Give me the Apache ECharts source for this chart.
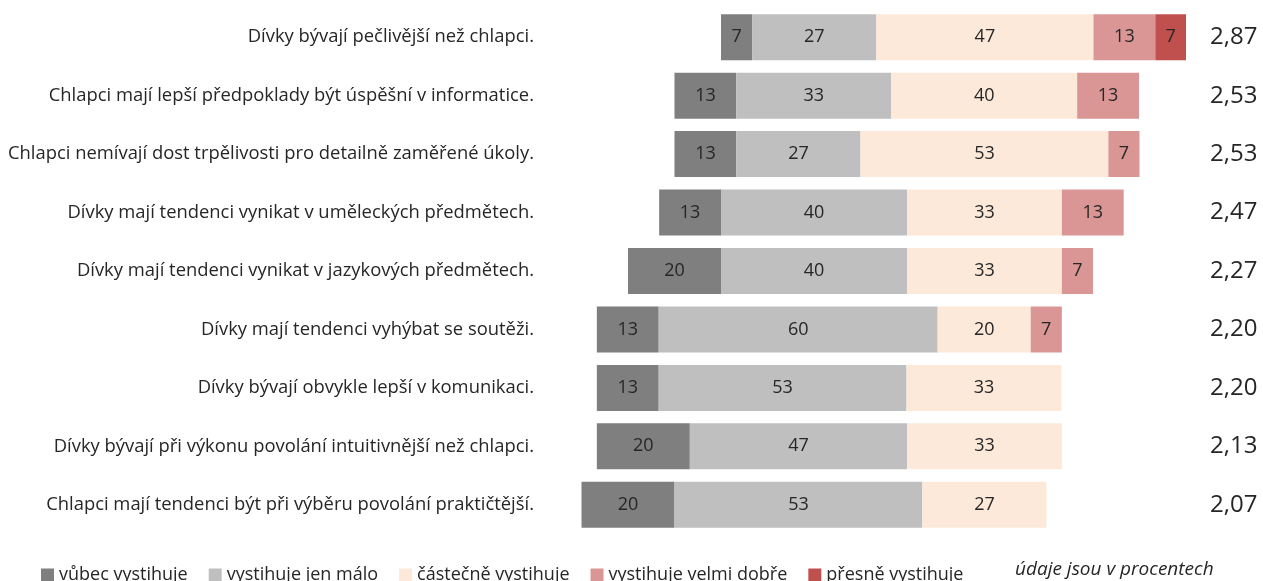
<!DOCTYPE html>
<html>
<head>
<meta charset="utf-8">
<script src="https://cdn.jsdelivr.net/npm/echarts@6/dist/echarts.min.js"></script>
<style>
  html, body { margin: 0; padding: 0; background: #fff; }
  #chart { width: 1263px; height: 581px; }
</style>
</head>
<body>
<div id="chart"></div>
<script>
// výroky (shora dolů)
const vyroky = [
  "Dívky bývají pečlivější než chlapci.",
  "Chlapci mají lepší předpoklady být úspěšní v informatice.",
  "Chlapci nemívají dost trpělivosti pro detailně zaměřené úkoly.",
  "Dívky mají tendenci vynikat v uměleckých předmětech.",
  "Dívky mají tendenci vynikat v jazykových předmětech.",
  "Dívky mají tendenci vyhýbat se soutěži.",
  "Dívky bývají obvykle lepší v komunikaci.",
  "Dívky bývají při výkonu povolání intuitivnější než chlapci.",
  "Chlapci mají tendenci být při výběru povolání praktičtější."
]
const prumery = ["2,87", "2,53", "2,53", "2,47", "2,27", "2,20", "2,20", "2,13", "2,07"]

// neviditelný posun pruhů
const posun = [40, 30, 30, 26.7, 20, 13.3, 13.3, 13.3, 10]

const vubec = [6.7, 13.3, 13.3, 13.3, 20, 13.3, 13.3, 20, 20]
const malo = [26.7, 33.3, 26.7, 40, 40, 60, 53.3, 46.7, 53.3]
const castecne = [46.7, 40, 53.3, 33.3, 33.3, 20, 33.3, 33.3, 26.7]
const velmiDobre = [13.3, 13.3, 6.7, 13.3, 6.7, 6.7, 0, 0, 0]
const presne = [6.7, 0, 0, 0, 0, 0, 0, 0, 0]

const kategorie = ["vůbec vystihuje", "vystihuje jen málo", "částečně vystihuje", "vystihuje velmi dobře", "přesně vystihuje"]
const barvy = ["#7f7f7f", "#bfbfbf", "#fde9d9", "#da9694", "#c0504d"]

const font = "Open Sans"
const myChart = echarts.init(document.getElementById("chart"))

const serie = [vubec, malo, castecne, velmiDobre, presne].map((data, i) => ({
  name: kategorie[i],
  type: "bar",
  stack: "celkem",
  barWidth: 46,
  itemStyle: { color: barvy[i] },
  label: {
    show: true,
    position: "inside",
    color: "#262626",
    fontFamily: font,
    fontSize: 18,
    formatter: (p) => (p.value ? String(Math.round(p.value)) : ""),
  },
  data: data,
}))

myChart.setOption({
  animation: false,
  textStyle: { fontFamily: font },
  grid: { left: 535, width: 651, top: 8, bottom: 47 },
  xAxis: { type: "value", min: 0, max: 140, show: false },
  yAxis: [
    {
      type: "category",
      inverse: true,
      data: vyroky,
      axisLine: { show: false },
      axisTick: { show: false },
      axisLabel: { margin: 1, fontSize: 18.4, color: "#262626", fontFamily: font },
    },
    {
      type: "category",
      inverse: true,
      position: "right",
      data: prumery,
      axisLine: { show: false },
      axisTick: { show: false },
      axisLabel: { margin: 24, fontSize: 24, color: "#262626", fontFamily: font },
    },
  ],
  legend: {
    data: kategorie,
    left: 41,
    top: 566,
    padding: 0,
    icon: "rect",
    itemWidth: 13,
    itemHeight: 13,
    itemGap: 21,
    textStyle: { fontSize: 18, color: "#262626", fontFamily: font },
  },
  graphic: [
    {
      type: "text",
      left: 1015,
      top: 560,
      style: { text: "údaje jsou v procentech", font: "italic 19px " + font, fill: "#262626" },
    },
  ],
  series: [
    {
      name: "posun",
      type: "bar",
      stack: "celkem",
      barWidth: 46,
      itemStyle: { color: "transparent" },
      data: posun,
      silent: true,
    },
  ].concat(serie),
})
</script>
</body>
</html>
